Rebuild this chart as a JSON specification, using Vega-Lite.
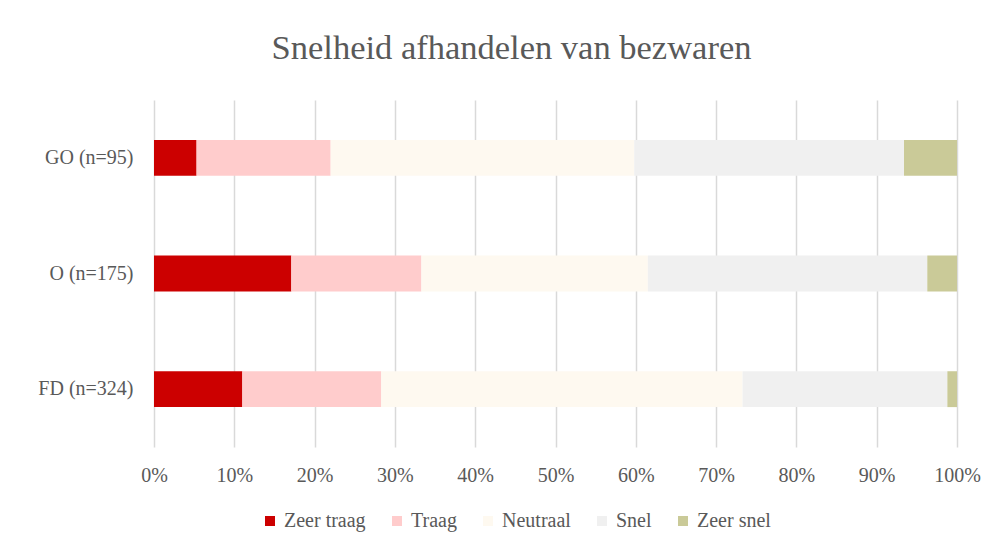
{
  "$schema": "https://vega.github.io/schema/vega-lite/v6.json",
  "width": 803,
  "height": 347,
  "autosize": {"type": "none"},
  "padding": {"left": 154, "top": 100, "right": 49, "bottom": 106},
  "background": "white",
  "title": {
    "text": "Snelheid afhandelen van bezwaren",
    "font": "Liberation Serif",
    "fontSize": 34.5,
    "fontWeight": "normal",
    "color": "#595959",
    "anchor": "middle",
    "dx": -44,
    "offset": 34
  },
  "data": {
    "values": [
      {"groep": "GO (n=95)", "cat": "Zeer traag", "k": 1, "pct": 5.3},
      {"groep": "GO (n=95)", "cat": "Traag", "k": 2, "pct": 16.7},
      {"groep": "GO (n=95)", "cat": "Neutraal", "k": 3, "pct": 37.8},
      {"groep": "GO (n=95)", "cat": "Snel", "k": 4, "pct": 33.6},
      {"groep": "GO (n=95)", "cat": "Zeer snel", "k": 5, "pct": 6.6},
      {"groep": "O (n=175)", "cat": "Zeer traag", "k": 1, "pct": 17.1},
      {"groep": "O (n=175)", "cat": "Traag", "k": 2, "pct": 16.2},
      {"groep": "O (n=175)", "cat": "Neutraal", "k": 3, "pct": 28.2},
      {"groep": "O (n=175)", "cat": "Snel", "k": 4, "pct": 34.8},
      {"groep": "O (n=175)", "cat": "Zeer snel", "k": 5, "pct": 3.7},
      {"groep": "FD (n=324)", "cat": "Zeer traag", "k": 1, "pct": 11.0},
      {"groep": "FD (n=324)", "cat": "Traag", "k": 2, "pct": 17.3},
      {"groep": "FD (n=324)", "cat": "Neutraal", "k": 3, "pct": 45.0},
      {"groep": "FD (n=324)", "cat": "Snel", "k": 4, "pct": 25.5},
      {"groep": "FD (n=324)", "cat": "Zeer snel", "k": 5, "pct": 1.2}
    ]
  },
  "mark": {"type": "bar"},
  "encoding": {
    "y": {
      "field": "groep",
      "type": "nominal",
      "sort": ["GO (n=95)", "O (n=175)", "FD (n=324)"],
      "scale": {"paddingInner": 0.69, "paddingOuter": 0.345},
      "axis": {
        "title": null,
        "domain": false,
        "ticks": false,
        "labelPadding": 21,
        "labelFont": "Liberation Serif",
        "labelFontSize": 20,
        "labelColor": "#595959"
      }
    },
    "x": {
      "field": "pct",
      "type": "quantitative",
      "stack": "zero",
      "scale": {"domain": [0, 100], "nice": false},
      "axis": {
        "title": null,
        "values": [0, 10, 20, 30, 40, 50, 60, 70, 80, 90, 100],
        "labelExpr": "datum.value + '%'",
        "labelFlush": false,
        "domain": false,
        "ticks": false,
        "grid": true,
        "gridColor": "#D9D9D9",
        "gridWidth": 1.5,
        "labelPadding": 18,
        "labelFont": "Liberation Serif",
        "labelFontSize": 20,
        "labelColor": "#595959"
      }
    },
    "color": {
      "field": "cat",
      "type": "nominal",
      "scale": {
        "domain": ["Zeer traag", "Traag", "Neutraal", "Snel", "Zeer snel"],
        "range": ["#CC0000", "#FFCCCC", "#FEF9F0", "#F0F0F0", "#CACA98"]
      },
      "legend": {
        "title": null,
        "orient": "none",
        "legendX": 106,
        "legendY": 411,
        "direction": "horizontal",
        "symbolType": "square",
        "symbolSize": 100,
        "symbolStrokeWidth": 0,
        "labelFont": "Liberation Serif",
        "labelFontSize": 20,
        "labelColor": "#595959",
        "columnPadding": 21,
        "labelOffset": 4
      }
    },
    "order": {"field": "k", "type": "quantitative"}
  },
  "config": {
    "view": {"stroke": null}
  }
}
